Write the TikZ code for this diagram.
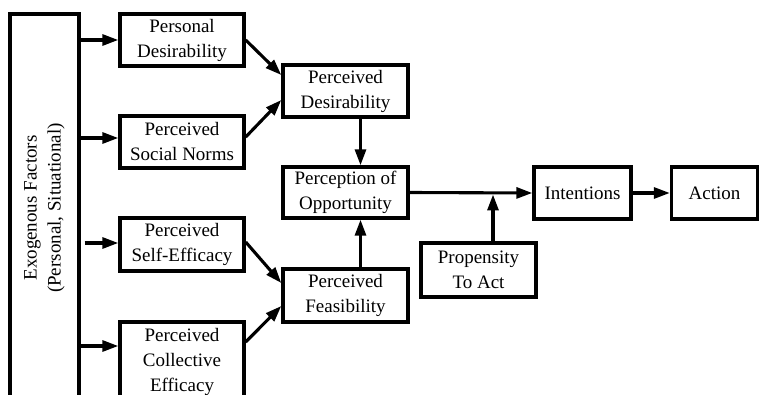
\documentclass[tikz,border=0pt]{standalone}
\usepackage{fontspec}
\setmainfont{Liberation Serif}
\usetikzlibrary{arrows.meta}
\begin{document}
\begin{tikzpicture}[x=1pt,y=-1pt,
  box/.style={draw, line width=3.4pt, rectangle, align=center, inner sep=0pt,
    font=\fontsize{19}{25}\selectfont},
  arr/.style={line width=3.1pt, -{Triangle[length=16pt,width=11pt]}}]
\useasboundingbox (0,0) rectangle (759,395);
\clip (0,0) rectangle (759,395);
\fill[white] (0,0) rectangle (759,395);
% nodes
\node[box, minimum width=69pt, minimum height=388pt] (exo) at (44.5,208) {};
\node[rotate=90, align=center, font=\fontsize{19}{24}\selectfont] (exotext) at (exo.center) {Exogenous Factors\\(Personal, Situational)};
\node[box, minimum width=124pt, minimum height=52pt] (pd) at (182,40) {Personal\\Desirability};
\node[box, minimum width=124pt, minimum height=52pt] (sn) at (182,142) {Perceived\\Social Norms};
\node[box, minimum width=124pt, minimum height=53pt] (se) at (182,244.5) {Perceived\\Self-Efficacy};
\node[box, minimum width=124pt, minimum height=80pt] (ce) at (182,362) {Perceived\\Collective\\Efficacy};
\node[box, minimum width=125pt, minimum height=52pt] (pdes) at (345.5,91) {Perceived\\Desirability};
\node[box, minimum width=125pt, minimum height=51pt] (po) at (345.5,192.5) {Perception of\\Opportunity};
\node[box, minimum width=125pt, minimum height=53pt] (pf) at (345.5,295.5) {Perceived\\Feasibility};
\node[box, minimum width=115pt, minimum height=54pt] (pta) at (478.5,270) {Propensity\\To Act};
\node[box, minimum width=97pt, minimum height=52pt] (int) at (582.5,193) {Intentions};
\node[box, minimum width=86pt, minimum height=52pt] (act) at (714.5,193) {Action};
% connectors from exogenous factors
\draw[arr] (exo.east |- pd.west) -- (pd.west);
\draw[arr] (exo.east |- sn.west) ++(0,-4) -- ([yshift=4pt]sn.west);
\draw[arr] ([xshift=4pt]exo.east |- se.west) ++(0,-1.5) -- ([yshift=1.5pt]se.west);
\draw[arr] (exo.east |- ce.west) ++(0,-16) -- ([yshift=16pt]ce.west);
% into perceived desirability / feasibility
\draw[arr] (pd.east) -- ([yshift=16pt]pdes.west);
\draw[arr] ([yshift=5pt]sn.east) -- ([yshift=-9pt]pdes.west);
\draw[arr] ([yshift=2.5pt]se.east) -- ([yshift=12.5pt]pf.west);
\draw[arr] ([yshift=20pt]ce.east) -- ([yshift=-10.5pt]pf.west);
% into perception of opportunity
\draw[arr] ([xshift=15pt]pdes.south) -- ([xshift=15pt]po.north);
\draw[arr] ([xshift=15pt]pf.north) -- ([xshift=15pt]po.north |- po.south);
% to intentions and action
\draw[arr] (po.east) -- (int.west);
\coordinate (junc) at ([xshift=14.5pt]pta.north |- po.east);
\draw[arr] ([xshift=14.5pt]pta.north) -- ([yshift=-2pt]junc);
\draw[arr] (int.east) -- (act.west);
\end{tikzpicture}
\end{document}
